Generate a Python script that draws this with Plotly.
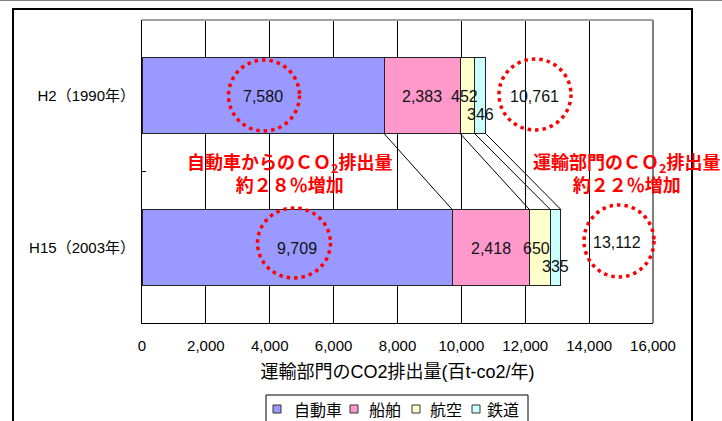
import numpy as np
import plotly.graph_objects as go

# ---------------- data ----------------
categories = ["H2（1990年）", "H15（2003年）"]
series_names = ["自動車", "船舶", "航空", "鉄道"]
auto_vals = [7580, 9709]
ship_vals = [2383, 2418]
air_vals = [452, 650]
rail_vals = [346, 335]
x_tick_vals = [0, 2000, 4000, 6000, 8000, 10000, 12000, 14000, 16000]
x_title = "運輸部門のCO2排出量(百t-co2/年)"
note_left = "自動車からのＣＯ<sub>2</sub>排出量<br>約２８％増加"
note_right = "運輸部門のＣＯ<sub>2</sub>排出量<br>約２２％増加"

# ---------------- style ----------------
colors = ["#9999FF", "#FF99CC", "#FFFFCC", "#CCFFFF"]
LAT = "Liberation Sans, Noto Sans CJK JP, sans-serif"
CJK = "Noto Sans CJK JP, sans-serif"
LBL = "Liberation Sans, sans-serif"
BAR_W = 0.5

W, H = 722, 421
L, R, T, B = 142, 69, 20, 98
PW, PH = W - L - R, H - T - B


def px_x(p):
    return (p - L) / PW


def px_y(p):
    return (H - B - p) / PH


series = [auto_vals, ship_vals, air_vals, rail_vals]
vals = np.array(series, dtype=float)          # shape (4, 2)
cum = np.cumsum(vals, axis=0)
mids = cum - vals / 2
totals = cum[-1]

fig = go.Figure()
for name, v, c in zip(series_names, series, colors):
    fig.add_trace(go.Bar(
        y=categories, x=v, name=name, orientation="h",
        marker=dict(color=c, line=dict(color="#222222", width=1)),
        width=BAR_W, hoverinfo="skip", showlegend=False,
    ))

shapes = []
# connector lines between the bars (segment boundaries)
for k in range(len(series)):
    shapes.append(dict(type="line", xref="x", yref="y",
                       x0=cum[k, 0], y0=0 + BAR_W / 2,
                       x1=cum[k, 1], y1=1 - BAR_W / 2,
                       line=dict(color="black", width=1), layer="above"))

# plot frame (top/right grey)
shapes.append(dict(type="line", xref="paper", yref="paper", x0=0, x1=1, y0=1, y1=1,
                   line=dict(color="#a0a0a0", width=2)))
shapes.append(dict(type="line", xref="paper", yref="paper", x0=1, x1=1, y0=0, y1=1,
                   line=dict(color="#808080", width=2)))
# outer chart border
shapes.append(dict(type="rect", xref="paper", yref="paper",
                   x0=px_x(13), x1=px_x(692), y0=px_y(440), y1=px_y(9),
                   line=dict(color="black", width=2), layer="below"))
# page top rule
shapes.append(dict(type="line", xref="paper", yref="paper",
                   x0=px_x(0), x1=px_x(722), y0=px_y(0.5), y1=px_y(0.5),
                   line=dict(color="#808080", width=1)))

# red dotted circles (pixel centres / radii)
circles = [(264, 95.5, 35.5, 35.5), (535, 94.5, 36, 35.5),
           (294, 243, 36.5, 35), (619, 241, 35, 36)]
for cx, cy, rx, ry in circles:
    shapes.append(dict(type="circle", xref="paper", yref="paper",
                       x0=px_x(cx - rx), x1=px_x(cx + rx),
                       y0=px_y(cy + ry), y1=px_y(cy - ry),
                       line=dict(color="#FF0000", width=3.5, dash="3.5px,4px"),
                       layer="above"))

annotations = []
label_shift = [(0, -1), (0, -1), (-3, -1), (0, -19)]
for k in range(len(series)):
    for j, cat in enumerate(categories):
        dx, dy = label_shift[k]
        annotations.append(dict(x=mids[k, j], y=cat, xref="x", yref="y",
                                text=f"{int(vals[k, j]):,}", showarrow=False,
                                xanchor="center", yanchor="middle",
                                xshift=dx, yshift=dy,
                                font=dict(family=LBL, size=16, color="#111111")))
# totals
total_px = [(534, 97), (617, 242)]
for j, (tx, ty) in enumerate(total_px):
    annotations.append(dict(x=px_x(tx), y=px_y(ty), xref="paper", yref="paper",
                            xanchor="center", yanchor="middle",
                            text=f"{int(totals[j]):,}", showarrow=False,
                            font=dict(family=LBL, size=16, color="#111111")))
# red notes
for txt, cx in [(note_left, 289.5), (note_right, 626)]:
    annotations.append(dict(x=px_x(cx), y=px_y(172), xref="paper", yref="paper",
                            xanchor="center", yanchor="middle",
                            text=f"<b>{txt}</b>", showarrow=False,
                            font=dict(family=CJK, size=18, color="#FF0000")))

# legend (drawn as a boxed key below the axis title)
shapes.append(dict(type="rect", xref="paper", yref="paper",
                   x0=px_x(266), x1=px_x(528), y0=px_y(440), y1=px_y(395),
                   line=dict(color="black", width=1), fillcolor="white", layer="below"))
key_sq_x = [273, 350, 412, 472]
key_txt_x = [292, 367, 428, 485]
for name, c, sx, tx in zip(series_names, colors, key_sq_x, key_txt_x):
    shapes.append(dict(type="rect", xref="paper", yref="paper",
                       x0=px_x(sx), x1=px_x(sx + 8), y0=px_y(413), y1=px_y(405),
                       line=dict(color="#333333", width=1), fillcolor=c))
    annotations.append(dict(x=px_x(tx), y=px_y(409), xref="paper", yref="paper",
                            xanchor="left", yanchor="middle", text=name,
                            showarrow=False,
                            font=dict(family=CJK, size=16, color="black")))

fig.update_layout(
    barmode="stack",
    width=W, height=H,
    margin=dict(l=L, r=R, t=T, b=B, pad=0, autoexpand=False),
    paper_bgcolor="white", plot_bgcolor="white",
    shapes=shapes, annotations=annotations,
    showlegend=False,
    xaxis=dict(range=[0, 16000], tickvals=x_tick_vals, tickformat=",d",
               showgrid=True, gridcolor="black", gridwidth=1,
               showline=True, linecolor="black", linewidth=1,
               zeroline=False, ticks="outside", ticklen=9,
               tickcolor="rgba(0,0,0,0)",
               tickfont=dict(family=LAT, size=15, color="black"),
               title=dict(text=x_title, standoff=12,
                          font=dict(family=LAT, size=18, color="black"))),
    yaxis=dict(categoryorder="array", categoryarray=categories,
               autorange="reversed", showgrid=False,
               showline=True, linecolor="black", linewidth=1,
               ticks="inside", ticklen=4, tickcolor="black", tickson="boundaries",
               ticklabelstandoff=3,
               tickfont=dict(family=LAT, size=15, color="black")),
)

fig.write_html("out.html")
